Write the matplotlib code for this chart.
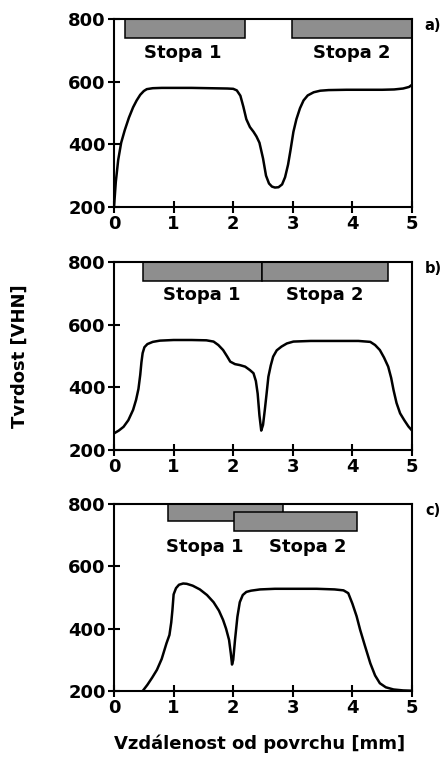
import matplotlib.pyplot as plt
from matplotlib.patches import Rectangle

plt.rcParams['font.family'] = ['DejaVu Sans']
plt.rcParams['font.weight'] = 'bold'

# profily tvrdosti (vzdalenost [mm], tvrdost [VHN])
x_a = [0.0, 0.03, 0.07, 0.12, 0.18, 0.25, 0.32, 0.38, 0.44, 0.50, 0.55, 0.65, 0.8, 1.0, 1.3,
       1.6, 1.9, 2.0, 2.06, 2.12, 2.17, 2.22, 2.28, 2.34, 2.39, 2.44, 2.50, 2.55, 2.60, 2.65,
       2.70, 2.76, 2.82, 2.87, 2.92, 2.96, 3.01, 3.06, 3.12, 3.18, 3.25, 3.35, 3.46, 3.6,
       3.9, 4.2, 4.5, 4.7, 4.85, 4.95, 5.0]
y_a = [200, 280, 350, 405, 445, 485, 518, 540, 558, 570, 576, 579, 580, 580, 580,
       579, 578, 577, 572, 555, 520, 480, 455, 440, 425, 405, 355, 300, 275, 265,
       262, 263, 272, 295, 335, 380, 440, 480, 515, 540, 556, 566, 571, 573,
       574, 574, 574, 575, 578, 583, 590]

x_b = [0.0, 0.08, 0.16, 0.24, 0.32, 0.37, 0.41, 0.44, 0.46, 0.48, 0.51, 0.56, 0.65, 0.77,
       1.0, 1.3, 1.55, 1.67, 1.75, 1.83, 1.90, 1.95, 2.03, 2.11, 2.20, 2.28, 2.34, 2.38,
       2.41, 2.44, 2.47, 2.50, 2.53, 2.56, 2.59, 2.63, 2.67, 2.73, 2.81, 2.9, 3.01, 3.3,
       3.7, 4.1, 4.3, 4.38, 4.46, 4.53, 4.60, 4.65, 4.69, 4.74, 4.80, 4.87, 4.94, 5.0]
y_b = [253, 262, 274, 295, 328, 360, 395, 440, 480, 509, 528, 538, 545, 549,
       551, 551, 550, 546, 535, 519, 498, 482, 474, 471, 466, 455, 445, 420,
       380, 310, 262, 280, 328, 380, 434, 470, 498, 518, 530, 540, 546, 548,
       548, 548, 545, 535, 519, 495, 466, 430, 391, 350, 317, 295, 275, 262]

x_c = [0.48, 0.56, 0.64, 0.72, 0.80, 0.88, 0.93, 0.96, 0.98, 1.00, 1.04, 1.09, 1.16,
       1.22, 1.32, 1.44, 1.56, 1.67, 1.76, 1.83, 1.88, 1.93, 1.96, 1.98, 2.00, 2.03,
       2.07, 2.11, 2.16, 2.22, 2.30, 2.45, 2.7, 3.0, 3.4, 3.7, 3.85, 3.93, 4.0, 4.07,
       4.13, 4.21, 4.30, 4.38, 4.46, 4.56, 4.69, 4.85, 5.0]
y_c = [200, 220, 243, 268, 303, 353, 380, 420, 460, 510, 530, 541, 545,
       544, 538, 526, 508, 485, 458, 428, 400, 364, 320, 285, 300, 364,
       438, 485, 508, 518, 522, 526, 528, 528, 528, 526, 523, 514, 480, 440,
       396, 345, 289, 250, 225, 212, 205, 202, 201]

# stopy: (zacatek, konec, spodni hrana, horni hrana)
stopy_a = [(0.18, 2.2, 740, 800), (2.98, 5.0, 740, 800)]
stopy_b = [(0.48, 2.49, 740, 800), (2.49, 4.59, 740, 800)]
stopy_c = [(0.91, 2.84, 745, 800), (2.02, 4.07, 713, 773)]

popisky_a = [(1.16, 691, 'Stopa 1'), (3.99, 691, 'Stopa 2')]
popisky_b = [(1.47, 695, 'Stopa 1'), (3.54, 695, 'Stopa 2')]
popisky_c = [(1.52, 663, 'Stopa 1'), (3.25, 663, 'Stopa 2')]

x_ticks = [0, 1, 2, 3, 4, 5]
y_ticks = [200, 400, 600, 800]

fig = plt.figure(figsize=(4.44, 7.64), dpi=100)

panels = [
    ([0.2568, 0.7291, 0.6712, 0.2461], x_a, y_a, stopy_a, popisky_a, 'a)'),
    ([0.2568, 0.4110, 0.6712, 0.2461], x_b, y_b, stopy_b, popisky_b, 'b)'),
    ([0.2568, 0.0955, 0.6712, 0.2448], x_c, y_c, stopy_c, popisky_c, 'c)'),
]

for rect, xs, ys, stopy, popisky, tag in panels:
    ax = fig.add_axes(rect)
    ax.plot(xs, ys, color='black', lw=1.8, solid_joinstyle='round', zorder=3)
    for x0, x1, y0, y1 in stopy:
        ax.add_patch(Rectangle((x0, y0), x1 - x0, y1 - y0, facecolor='#8e8e8e',
                               edgecolor='black', lw=1.1, zorder=2, clip_on=False))
    for tx, ty, txt in popisky:
        ax.text(tx, ty, txt, ha='center', va='center', fontsize=13, fontweight='bold')
    ax.text(1.07, 0.965, tag, transform=ax.transAxes, ha='center', va='center',
            fontsize=10.5, fontweight='bold')
    ax.set_xlim(0, 5)
    ax.set_ylim(200, 800)
    ax.set_xticks(x_ticks)
    ax.set_yticks(y_ticks)
    ax.tick_params(direction='inout', length=8, width=1.5, labelsize=13, pad=2)
    for lab in ax.get_xticklabels() + ax.get_yticklabels():
        lab.set_fontweight('bold')
    for s in ax.spines.values():
        s.set_linewidth(1.5)

fig.text(0.045, 0.534, 'Tvrdost [VHN]', rotation=90, ha='center', va='center',
         fontsize=13, fontweight='bold')
fig.text(0.585, 0.026, 'Vzdálenost od povrchu [mm]', ha='center', va='center',
         fontsize=13, fontweight='bold')

fig.savefig('out.png', dpi=100)
